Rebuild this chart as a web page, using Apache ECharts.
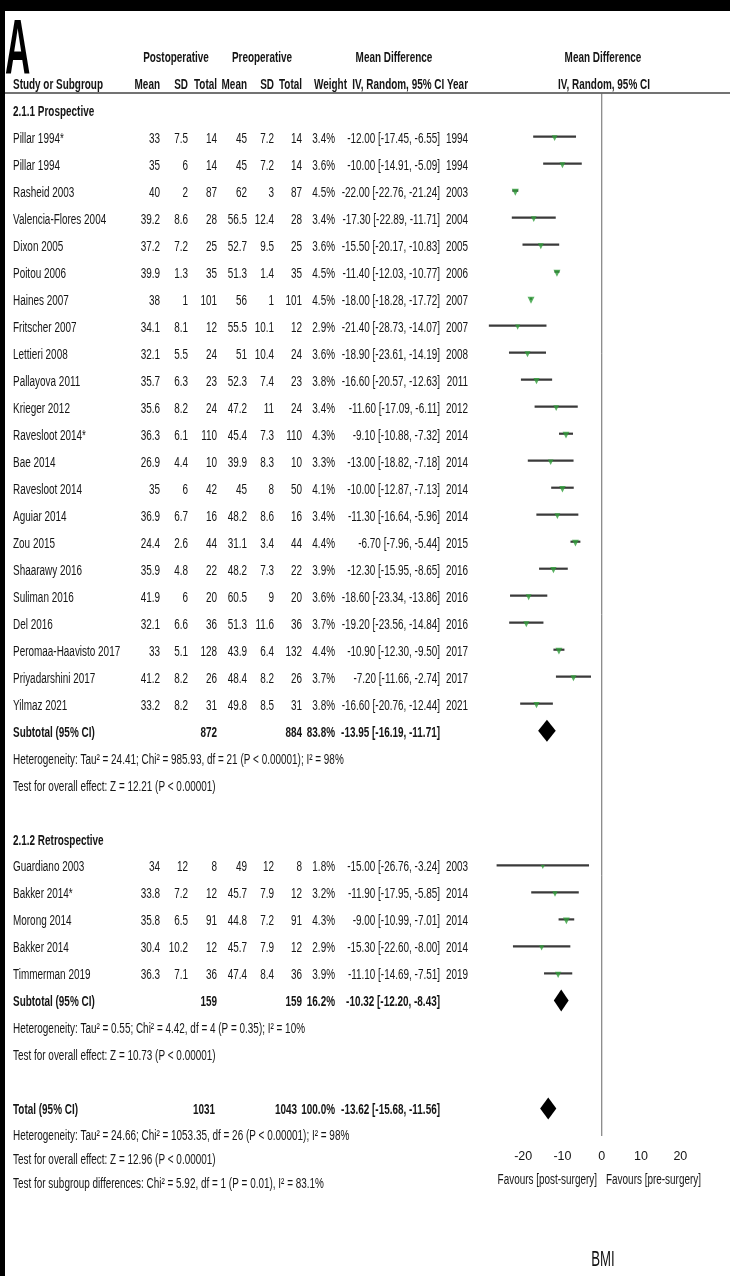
<!DOCTYPE html>
<html>
<head>
<meta charset="utf-8">
<script src="https://cdn.jsdelivr.net/npm/echarts@6/dist/echarts.min.js"></script>
<style>
html, body { margin: 0; padding: 0; background: #fff; }
#chart { width: 730px; height: 1276px; }
</style>
</head>
<body>
<div id="chart"></div>
<script>
/****** DATA ******/
var studyNames = ['Pillar 1994*', 'Pillar 1994', 'Rasheid 2003', 'Valencia-Flores 2004', 'Dixon 2005', 'Poitou 2006',
    'Haines 2007', 'Fritscher 2007', 'Lettieri 2008', 'Pallayova 2011', 'Krieger 2012', 'Ravesloot 2014*', 'Bae 2014',
    'Ravesloot 2014', 'Aguiar 2014', 'Zou 2015', 'Shaarawy 2016', 'Suliman 2016', 'Del 2016', 'Peromaa-Haavisto 2017',
    'Priyadarshini 2017', 'Yilmaz 2021',
    'Guardiano 2003', 'Bakker 2014*', 'Morong 2014', 'Bakker 2014', 'Timmerman 2019'];
var studyGroup = [0,0,0,0,0,0,0,0,0,0,0,0,0,0,0,0,0,0,0,0,0,0, 1,1,1,1,1];
var postMean  = [33, 35, 40, 39.2, 37.2, 39.9, 38, 34.1, 32.1, 35.7, 35.6, 36.3, 26.9, 35, 36.9, 24.4, 35.9, 41.9, 32.1, 33, 41.2, 33.2,
    34, 33.8, 35.8, 30.4, 36.3];
var postSD    = [7.5, 6, 2, 8.6, 7.2, 1.3, 1, 8.1, 5.5, 6.3, 8.2, 6.1, 4.4, 6, 6.7, 2.6, 4.8, 6, 6.6, 5.1, 8.2, 8.2,
    12, 7.2, 6.5, 10.2, 7.1];
var postTotal = [14, 14, 87, 28, 25, 35, 101, 12, 24, 23, 24, 110, 10, 42, 16, 44, 22, 20, 36, 128, 26, 31,
    8, 12, 91, 12, 36];
var preMean   = [45, 45, 62, 56.5, 52.7, 51.3, 56, 55.5, 51, 52.3, 47.2, 45.4, 39.9, 45, 48.2, 31.1, 48.2, 60.5, 51.3, 43.9, 48.4, 49.8,
    49, 45.7, 44.8, 45.7, 47.4];
var preSD     = [7.2, 7.2, 3, 12.4, 9.5, 1.4, 1, 10.1, 10.4, 7.4, 11, 7.3, 8.3, 8, 8.6, 3.4, 7.3, 9, 11.6, 6.4, 8.2, 8.5,
    12, 7.9, 7.2, 7.9, 8.4];
var preTotal  = [14, 14, 87, 28, 25, 35, 101, 12, 24, 23, 24, 110, 10, 50, 16, 44, 22, 20, 36, 132, 26, 31,
    8, 12, 91, 12, 36];
var weights   = [3.4, 3.6, 4.5, 3.4, 3.6, 4.5, 4.5, 2.9, 3.6, 3.8, 3.4, 4.3, 3.3, 4.1, 3.4, 4.4, 3.9, 3.6, 3.7, 4.4, 3.7, 3.8,
    1.8, 3.2, 4.3, 2.9, 3.9];
var meanDiff  = [-12.00, -10.00, -22.00, -17.30, -15.50, -11.40, -18.00, -21.40, -18.90, -16.60, -11.60, -9.10, -13.00, -10.00,
    -11.30, -6.70, -12.30, -18.60, -19.20, -10.90, -7.20, -16.60,
    -15.00, -11.90, -9.00, -15.30, -11.10];
var ciLow     = [-17.45, -14.91, -22.76, -22.89, -20.17, -12.03, -18.28, -28.73, -23.61, -20.57, -17.09, -10.88, -18.82, -12.87,
    -16.64, -7.96, -15.95, -23.34, -23.56, -12.30, -11.66, -20.76,
    -26.76, -17.95, -10.99, -22.60, -14.69];
var ciHigh    = [-6.55, -5.09, -21.24, -11.71, -10.83, -10.77, -17.72, -14.07, -14.19, -12.63, -6.11, -7.32, -7.18, -7.13,
    -5.96, -5.44, -8.65, -13.86, -14.84, -9.50, -2.74, -12.44,
    -3.24, -5.85, -7.01, -8.00, -7.51];
var studyYears = [1994, 1994, 2003, 2004, 2005, 2006, 2007, 2007, 2008, 2011, 2012, 2014, 2014, 2014, 2014, 2015, 2016, 2016,
    2016, 2017, 2017, 2021,
    2003, 2014, 2014, 2014, 2019];

var groupNames    = ['2.1.1 Prospective', '2.1.2 Retrospective'];
var groupPostN    = [872, 159];
var groupPreN     = [884, 159];
var groupWeight   = [83.8, 16.2];
var groupMD       = [-13.95, -10.32];
var groupLow      = [-16.19, -12.20];
var groupHigh     = [-11.71, -8.43];
var groupHetText  = ['Heterogeneity: Tau\u00b2 = 24.41; Chi\u00b2 = 985.93, df = 21 (P < 0.00001); I\u00b2 = 98%',
    'Heterogeneity: Tau\u00b2 = 0.55; Chi\u00b2 = 4.42, df = 4 (P = 0.35); I\u00b2 = 10%'];
var groupTestText = ['Test for overall effect: Z = 12.21 (P < 0.00001)', 'Test for overall effect: Z = 10.73 (P < 0.00001)'];

var totalPostN = 1031, totalPreN = 1043, totalWeight = 100.0;
var totalMD = -13.62, totalLow = -15.68, totalHigh = -11.56;
var totalTexts = ['Heterogeneity: Tau\u00b2 = 24.66; Chi\u00b2 = 1053.35, df = 26 (P < 0.00001); I\u00b2 = 98%',
    'Test for overall effect: Z = 12.96 (P < 0.00001)',
    'Test for subgroup differences: Chi\u00b2 = 5.92, df = 1 (P = 0.01), I\u00b2 = 83.1%'];

var tickValues = [-20, -10, 0, 10, 20];
var favoursLeft = 'Favours [post-surgery]';
var favoursRight = 'Favours [pre-surgery]';

/****** LAYOUT ******/
var FONT = '"Liberation Sans", Arial, sans-serif';
var FS = 14;
var SX = 0.71;         // horizontal squeeze, the original text is tall and narrow
var INK = '#151515';
var COL = { name: 13, postMean: 160, postSD: 188, postN: 217, preMean: 247, preSD: 274, preN: 302,
    weight: 335, md: 440, year: 468 };
var AXIS_Y = 1136;
var RULE_Y = 93;
var ROW = 27;
var TEXT_DY = 2;       // text sits a touch below the whisker line

// vertical positions of the table rows (pixels, y axis runs 0..AXIS_Y)
var rows = [];
(function buildRows() {
    var y = 110;
    for (var g = 0; g < groupNames.length; g++) {
        rows.push({ kind: 'group', y: y, g: g });
        y += ROW - 0.3;
        for (var i = 0; i < studyNames.length; i++) {
            if (studyGroup[i] !== g) continue;
            rows.push({ kind: 'study', y: y, i: i });
            y += ROW;
        }
        rows.push({ kind: 'sub', y: y, g: g });
        y += ROW;
        rows.push({ kind: 'line', y: y, text: groupHetText[g] });
        y += ROW;
        rows.push({ kind: 'line', y: y, text: groupTestText[g] });
        y += 2 * ROW;
    }
    rows.push({ kind: 'total', y: y });
    y += 26;
    for (var t = 0; t < totalTexts.length; t++) {
        rows.push({ kind: 'line', y: y, text: totalTexts[t] });
        y += 24;
    }
})();

function fmt2(v) { return v.toFixed(2); }
function ciText(md, lo, hi) { return fmt2(md) + ' [' + fmt2(lo) + ', ' + fmt2(hi) + ']'; }

function txt(x, y, s, align, bold) {
    return {
        type: 'text', x: x, y: y, scaleX: SX,
        style: { text: String(s), align: align, verticalAlign: 'middle',
            font: (bold ? 'bold ' : '') + FS + 'px ' + FONT, fill: INK }
    };
}

function renderTable(params, api) {
    var r = rows[api.value(0)];
    var y = api.coord([0, r.y])[1] + TEXT_DY;
    var k = [];
    if (r.kind === 'group') {
        k.push(txt(COL.name, y, groupNames[r.g], 'left', true));
    } else if (r.kind === 'study') {
        var i = r.i;
        k.push(txt(COL.name, y, studyNames[i], 'left'));
        k.push(txt(COL.postMean, y, postMean[i], 'right'));
        k.push(txt(COL.postSD, y, postSD[i], 'right'));
        k.push(txt(COL.postN, y, postTotal[i], 'right'));
        k.push(txt(COL.preMean, y, preMean[i], 'right'));
        k.push(txt(COL.preSD, y, preSD[i], 'right'));
        k.push(txt(COL.preN, y, preTotal[i], 'right'));
        k.push(txt(COL.weight, y, weights[i].toFixed(1) + '%', 'right'));
        k.push(txt(COL.md, y, ciText(meanDiff[i], ciLow[i], ciHigh[i]), 'right'));
        k.push(txt(COL.year, y, studyYears[i], 'right'));
    } else if (r.kind === 'sub') {
        var g = r.g;
        k.push(txt(COL.name, y, 'Subtotal (95% CI)', 'left', true));
        k.push(txt(COL.postN, y, groupPostN[g], 'right', true));
        k.push(txt(COL.preN, y, groupPreN[g], 'right', true));
        k.push(txt(COL.weight, y, groupWeight[g].toFixed(1) + '%', 'right', true));
        k.push(txt(COL.md, y, ciText(groupMD[g], groupLow[g], groupHigh[g]), 'right', true));
    } else if (r.kind === 'total') {
        k.push(txt(COL.name, y, 'Total (95% CI)', 'left', true));
        k.push(txt(COL.postN - 2, y, totalPostN, 'right', true));
        k.push(txt(COL.preN - 5, y, totalPreN, 'right', true));
        k.push(txt(COL.weight, y, totalWeight.toFixed(1) + '%', 'right', true));
        k.push(txt(COL.md, y, ciText(totalMD, totalLow, totalHigh), 'right', true));
    } else {
        k.push(txt(COL.name, y, r.text, 'left'));
    }
    return { type: 'group', children: k };
}

// marks for the forest panel
var ciData = [];
var pointData = [];
var diamondData = [];
rows.forEach(function (r) {
    if (r.kind === 'study') {
        ciData.push([ciLow[r.i], ciHigh[r.i], r.y]);
        pointData.push([meanDiff[r.i], r.y, weights[r.i]]);
    } else if (r.kind === 'sub') {
        diamondData.push([groupLow[r.g], groupMD[r.g], groupHigh[r.g], r.y]);
    } else if (r.kind === 'total') {
        diamondData.push([totalLow, totalMD, totalHigh, r.y]);
    }
});

function renderCI(params, api) {
    var a = api.coord([api.value(0), api.value(2)]);
    var b = api.coord([api.value(1), api.value(2)]);
    return { type: 'line', shape: { x1: a[0], y1: a[1], x2: b[0], y2: b[1] },
        style: { stroke: '#3a3a3a', lineWidth: 2.2 } };
}

function renderDiamond(params, api) {
    var y = api.value(3);
    var l = api.coord([api.value(0), y]);
    var m = api.coord([api.value(1), y]);
    var h = api.coord([api.value(2), y]);
    var half = 11;
    return { type: 'polygon',
        shape: { points: [[l[0], l[1]], [m[0], m[1] - half], [h[0], h[1]], [m[0], m[1] + half]] },
        style: { fill: '#000' } };
}

function headText(x, y, s, align) {
    return { type: 'text', x: x, y: y, scaleX: SX,
        style: { text: s, align: align, verticalAlign: 'middle', font: 'bold ' + FS + 'px ' + FONT, fill: INK } };
}

var myChart = echarts.init(document.getElementById('chart'), null, { renderer: 'canvas' });

var option = {
    backgroundColor: '#fff',
    animation: false,
    grid: { left: 476, width: 253.5, top: 0, height: AXIS_Y, outerBoundsMode: 'none', containLabel: false },
    xAxis: {
        type: 'value', min: -32, max: 32.5,
        axisLine: { show: true, lineStyle: { color: '#505050', width: 1.5 } },
        axisTick: { show: true, inside: true, length: 8, customValues: tickValues, lineStyle: { color: '#505050', width: 1 } },
        axisLabel: { show: true, customValues: tickValues, margin: 14, color: INK, fontSize: 12.5, fontFamily: FONT },
        splitLine: { show: false }
    },
    yAxis: {
        type: 'value', min: 0, max: AXIS_Y, inverse: true, show: false
    },
    graphic: [
        { type: 'rect', left: 0, top: 0, shape: { width: 730, height: 11 }, style: { fill: '#000' }, z: 100 },
        { type: 'rect', left: 0, top: 0, shape: { width: 5, height: 1276 }, style: { fill: '#000' }, z: 100 },
        { type: 'text', x: 5, y: 13, scaleX: 0.45,
            style: { text: 'A', font: 'bold 78px "Liberation Sans", sans-serif', fill: '#000', verticalAlign: 'top' } },
        { type: 'line', shape: { x1: 5, y1: RULE_Y, x2: 730, y2: RULE_Y }, style: { stroke: '#444', lineWidth: 1.5 } },
        headText(176, 58, 'Postoperative', 'center'),
        headText(262, 58, 'Preoperative', 'center'),
        headText(394, 58, 'Mean Difference', 'center'),
        headText(603, 58, 'Mean Difference', 'center'),
        headText(COL.name, 85, 'Study or Subgroup', 'left'),
        headText(COL.postMean, 85, 'Mean', 'right'),
        headText(COL.postSD, 85, 'SD', 'right'),
        headText(COL.postN, 85, 'Total', 'right'),
        headText(COL.preMean, 85, 'Mean', 'right'),
        headText(COL.preSD, 85, 'SD', 'right'),
        headText(COL.preN, 85, 'Total', 'right'),
        headText(COL.weight + 12, 85, 'Weight', 'right'),
        headText(COL.year, 85, 'IV, Random, 95% CI Year', 'right'),
        headText(604, 85, 'IV, Random, 95% CI', 'center'),
        { type: 'text', x: 597, y: 1180, scaleX: SX,
            style: { text: favoursLeft, align: 'right', verticalAlign: 'middle', font: FS + 'px ' + FONT, fill: INK } },
        { type: 'text', x: 606, y: 1180, scaleX: SX,
            style: { text: favoursRight, align: 'left', verticalAlign: 'middle', font: FS + 'px ' + FONT, fill: INK } },
        { type: 'text', x: 603, y: 1260, scaleX: 0.6,
            style: { text: 'BMI', align: 'center', verticalAlign: 'middle', font: '22px ' + FONT, fill: '#111' } }
    ],
    series: [
        {
            name: 'zero', type: 'line', data: [[0, RULE_Y], [0, AXIS_Y]], symbol: 'none',
            lineStyle: { color: '#666', width: 1 }, silent: true, z: 1
        },
        {
            name: 'table', type: 'custom', renderItem: renderTable, clip: false,
            data: rows.map(function (r, k) { return [k]; }), encode: { x: -1, y: -1 }, silent: true, z: 3
        },
        {
            name: 'ci', type: 'custom', renderItem: renderCI, data: ciData,
            encode: { x: [0, 1], y: 2 }, silent: true, z: 4
        },
        {
            name: 'effect', type: 'scatter', data: pointData,
            symbol: 'triangle', symbolRotate: 180, symbolOffset: [0, 1.5],
            symbolSize: function (v) { return 2 + v[2] * 1.1; },
            itemStyle: { color: '#2f9e3a' }, silent: true, z: 5
        },
        {
            name: 'pooled', type: 'custom', renderItem: renderDiamond, data: diamondData,
            encode: { x: [0, 1, 2], y: 3 }, silent: true, z: 5
        }
    ]
};

myChart.setOption(option);
</script>
</body>
</html>
